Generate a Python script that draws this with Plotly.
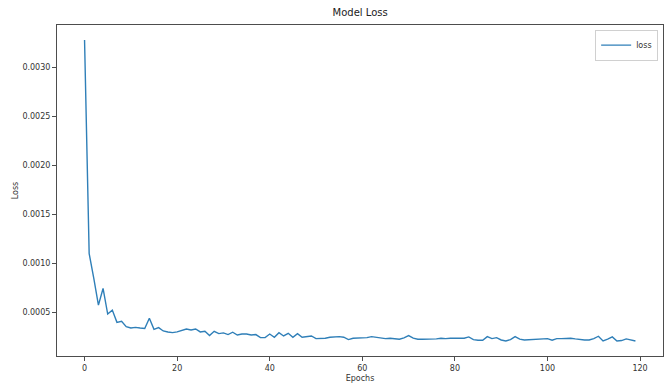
import plotly.graph_objects as go

epochs = list(range(120))
loss = [
    0.00328, 0.00110, 0.000846, 0.000574, 0.000744, 0.000483, 0.000523, 0.000398, 0.000408, 0.000354,
    0.000340, 0.000347, 0.000340, 0.000336, 0.000439, 0.000327, 0.000344, 0.000310, 0.000300, 0.000293,
    0.000300, 0.000313, 0.000330, 0.000320, 0.000330, 0.000300, 0.000307, 0.000263, 0.000307, 0.000283,
    0.000290, 0.000273, 0.000297, 0.000269, 0.000279, 0.000279, 0.000269, 0.000273, 0.000242, 0.000242,
    0.000279, 0.000246, 0.000293, 0.000259, 0.000286, 0.000246, 0.000283, 0.000246, 0.000249, 0.000259,
    0.000232, 0.000232, 0.000236, 0.000246, 0.000252, 0.000252, 0.000246, 0.000222, 0.000236, 0.000236,
    0.000239, 0.000242, 0.000252, 0.000246, 0.000236, 0.000232, 0.000236, 0.000232, 0.000226, 0.000239,
    0.000263, 0.000236, 0.000226, 0.000226, 0.000226, 0.000232, 0.000229, 0.000236, 0.000232, 0.000236,
    0.000236, 0.000242, 0.000236, 0.000249, 0.000222, 0.000215, 0.000215, 0.000252, 0.000232, 0.000242,
    0.000218, 0.000208, 0.000222, 0.000252, 0.000226, 0.000218, 0.000222, 0.000226, 0.000229, 0.000232,
    0.000232, 0.000215, 0.000232, 0.000232, 0.000236, 0.000236, 0.000229, 0.000222, 0.000218, 0.000218,
    0.000232, 0.000256, 0.000208, 0.000226, 0.000249, 0.000208, 0.000212, 0.000229, 0.000218, 0.000208,
]
series_name = "loss"
title_text = "Model Loss"
x_label = "Epochs"
y_label = "Loss"

ymin, ymax = min(loss), max(loss)
ypad = (ymax - ymin) * 0.05
xpad = (max(epochs) - min(epochs)) * 0.05

font = "DejaVu Sans"
axis_col = "#4d4d4d"

fig = go.Figure()
fig.add_trace(go.Scatter(x=epochs, y=loss, mode="lines", name=series_name,
                         line=dict(color="#2f7fb8", width=1.4)))

fig.update_layout(
    width=667, height=383,
    margin=dict(l=57, r=4, t=25, b=27, autoexpand=False),
    paper_bgcolor="white", plot_bgcolor="white",
    font=dict(family=font, size=8, color="#333333"),
    title=dict(text=title_text, x=0.54, xanchor="center", y=0.968, yanchor="middle",
               font=dict(family=font, size=10, color="#222222")),
    showlegend=True,
    legend=dict(x=0.992, y=0.986, xanchor="right", yanchor="top",
                bgcolor="white", bordercolor="#d0d0d0", borderwidth=1,
                font=dict(family=font, size=8, color="#333333"),
                itemwidth=30),
)
fig.update_xaxes(range=[min(epochs) - xpad, max(epochs) + xpad], automargin=False,
                 tickmode="linear", tick0=0, dtick=20,
                 showgrid=False, zeroline=False,
                 showline=True, mirror=True, linecolor=axis_col, linewidth=1,
                 ticks="outside", ticklen=4, tickcolor=axis_col,
                 title=dict(text=x_label, standoff=4, font=dict(family=font, size=8)))
fig.update_yaxes(range=[ymin - ypad, ymax + ypad], automargin=False,
                 tickmode="linear", tick0=0, dtick=0.0005, tickformat=".4f",
                 showgrid=False, zeroline=False,
                 showline=True, mirror=True, linecolor=axis_col, linewidth=1,
                 ticks="outside", ticklen=4, tickcolor=axis_col,
                 title=dict(text=y_label, standoff=2, font=dict(family=font, size=8)))

fig.write_html("out.html", config={"displayModeBar": False},
               post_script="document.body.style.margin='0';document.body.style.overflow='hidden';")
